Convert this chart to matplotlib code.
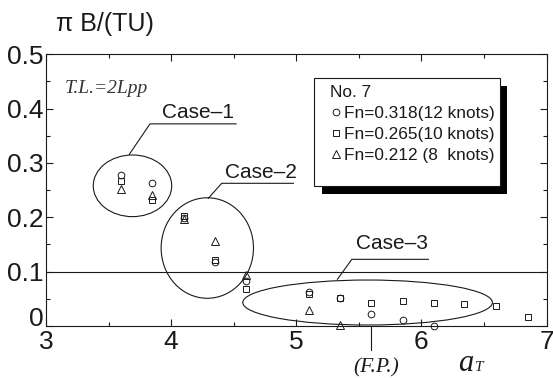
import matplotlib
matplotlib.use('Agg')
import matplotlib.pyplot as plt
from matplotlib.patches import Ellipse, Rectangle
from matplotlib.lines import Line2D
from matplotlib.ticker import MultipleLocator
from matplotlib.transforms import ScaledTranslation

plt.rcParams['font.family'] = ['Liberation Sans', 'DejaVu Sans']

# a_T versus pi B/(TU) for three ship speeds (ship No. 7)
x_12kn = [3.60, 3.845, 4.10, 4.35, 4.60, 5.10, 5.35, 5.60, 5.85, 6.10]
y_12kn = [0.277, 0.264, 0.199, 0.118, 0.082, 0.063, 0.051, 0.022, 0.011, 0.000]
x_10kn = [3.60, 3.845, 4.10, 4.35, 4.60, 5.10, 5.35, 5.60, 5.85, 6.10, 6.34, 6.60, 6.85]
y_10kn = [0.267, 0.232, 0.203, 0.122, 0.0675, 0.058, 0.052, 0.043, 0.046, 0.043, 0.0405, 0.037, 0.017]
x_8kn = [3.60, 3.845, 4.10, 4.35, 4.60, 5.10, 5.35]
y_8kn = [0.253, 0.241, 0.197, 0.157, 0.094, 0.029, 0.001]

series_labels = ['Fn=0.318(12 knots)', 'Fn=0.265(10 knots)', 'Fn=0.212 (8  knots)']
series_markers = ['o', 's', '^']

x_ticks = [3, 4, 5, 6, 7]
x_ticklabels = ['3', '4', '5', '6', '7']
y_ticks = [0, 0.1, 0.2, 0.3, 0.4, 0.5]
y_ticklabels = ['0', '0.1', '0.2', '0.3', '0.4', '0.5']
fp_position = 5.60   # a_T at the F.P.
threshold = 0.1

INK = '#1a1a1a'

fig = plt.figure(figsize=(5.53, 3.78), dpi=100)
ax = fig.add_axes([0.0832, 0.1376, 0.9051, 0.7187])

ms = 4.8
for xs, ys, mk in zip([x_12kn, x_10kn, x_8kn], [y_12kn, y_10kn, y_8kn], series_markers):
    ax.plot(xs, ys, ls='none', marker=mk, ms=ms if mk != '^' else 5.3,
            mfc='none', mec=INK, mew=0.7, clip_on=False, zorder=3)

ax.axhline(threshold, color=INK, lw=0.8, zorder=2)

# grouping ellipses with leader lines and captions
groups = [
    dict(text='Case\u20131', center=(3.691, 0.258), w=0.627, h=0.1135,
         leader=[(3.666, 0.316), (3.831, 0.372), (4.519, 0.372)], tpos=(4.213, 0.392)),
    dict(text='Case\u20132', center=(4.289, 0.1435), w=0.738, h=0.185,
         leader=[(4.297, 0.235), (4.404, 0.2626), (4.977, 0.2626)], tpos=(4.717, 0.282)),
    dict(text='Case\u20133', center=(5.570, 0.0432), w=1.995, h=0.0828,
         leader=[(5.329, 0.086), (5.444, 0.1227), (6.056, 0.1227)], tpos=(5.763, 0.152)),
]
for g in groups:
    ax.add_patch(Ellipse(g['center'], g['w'], g['h'], fill=False, ec=INK, lw=0.8,
                         zorder=2, clip_on=False))
    lx, ly = zip(*g['leader'])
    ax.plot(lx, ly, color=INK, lw=0.8, zorder=2)
    ax.text(*g['tpos'], g['text'], fontsize=15, ha='center', va='center', color=INK)

# F.P. marker below the axis
ax.plot([fp_position, fp_position], [0, -0.044], color=INK, lw=0.8, clip_on=False)
ax.text(5.638, -0.0773, '(F.P.)', fontsize=15.5, family='Liberation Serif',
        style='italic', ha='center', va='center', color=INK)

ax.text(0.0366, 0.875, 'T.L.=2Lpp', transform=ax.transAxes, fontsize=14,
        family='Liberation Serif', style='italic', ha='left', va='center', color='#333333')

ax.set_xlim(3, 7)
ax.set_ylim(0, 0.5)
ax.set_xticks(x_ticks)
ax.set_xticklabels(x_ticklabels)
ax.set_yticks(y_ticks)
ax.set_yticklabels(y_ticklabels)
ax.xaxis.set_minor_locator(MultipleLocator(0.5))
ax.yaxis.set_minor_locator(MultipleLocator(0.05))
ax.tick_params(which='both', direction='in', top=True, right=True, width=0.8, color=INK)
ax.tick_params(which='major', length=5, labelsize=19, labelcolor=INK)
ax.tick_params(which='minor', length=3)
ax.tick_params(axis='y', pad=2)
ax.tick_params(axis='x', pad=3)
for s in ax.spines.values():
    s.set_linewidth(0.8)
    s.set_color(INK)

# lift the "0" label clear of the "3"
zero = ax.get_yticklabels()[0]
zero.set_transform(zero.get_transform() + ScaledTranslation(0, 7 / 72, fig.dpi_scale_trans))

# axis titles
fig.text(0.19, 0.9365, '\u03c0 B/(TU)', fontsize=18, ha='center', va='center', color=INK)
fig.text(0.828, 0.019, 'a', fontsize=22, family='Liberation Serif', style='italic',
         ha='left', va='baseline', color=INK)
fig.text(0.859, 0.019, 'T', fontsize=11, family='Liberation Serif', style='italic',
         ha='left', va='baseline', color=INK)

# legend box with a solid drop shadow
bx, by, bw, bh = 0.536, 0.515, 0.371, 0.397
ax.add_patch(Rectangle((bx + 0.0146, by - 0.0294), bw, bh, transform=ax.transAxes,
                       fc='black', ec='black', lw=0, zorder=4, clip_on=False))
ax.add_patch(Rectangle((bx, by), bw, bh, transform=ax.transAxes,
                       fc='white', ec=INK, lw=0.8, zorder=5, clip_on=False))
handles = [Line2D([], [], ls='none', marker=mk, ms=ms if mk != '^' else 5.3,
                  mfc='none', mec=INK, mew=0.7) for mk in series_markers]
leg = ax.legend(handles, series_labels, title='No. 7', loc='upper left',
                bbox_to_anchor=(0.5674, 0.8855), frameon=False, borderpad=0,
                borderaxespad=0, handlelength=0.7, handletextpad=0.12,
                labelspacing=0.34, fontsize=12.4, title_fontsize=12.4,
                alignment='left')
leg.set_zorder(6)
for t in leg.get_texts():
    t.set_color(INK)
leg.get_title().set_color(INK)

fig.savefig('out.png', dpi=100)
